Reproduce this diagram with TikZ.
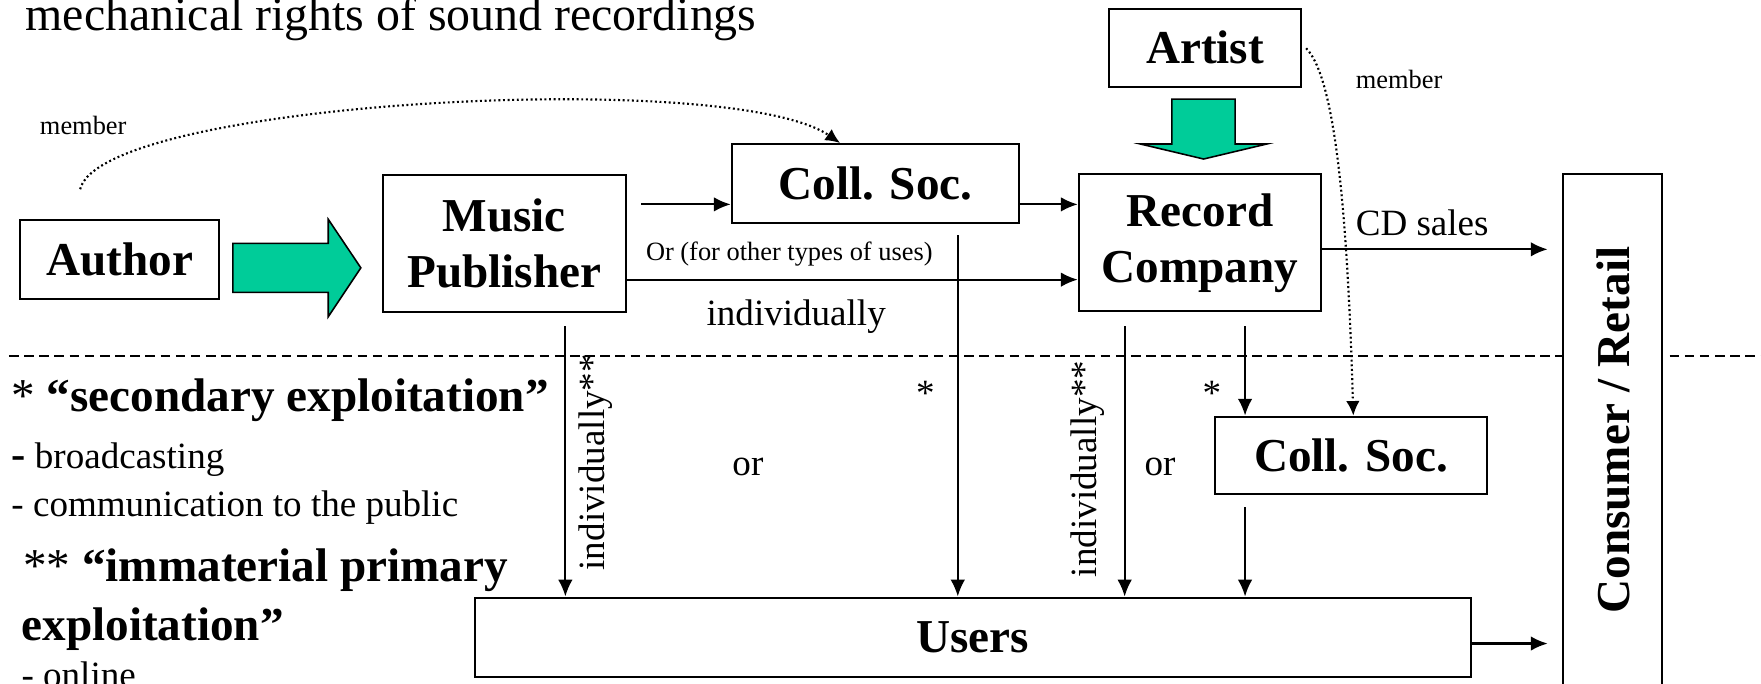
\documentclass[tikz,border=0pt]{standalone}
\usepackage{fontspec}
\setmainfont{Liberation Serif}
\usetikzlibrary{arrows.meta}
\definecolor{arrowgreen}{RGB}{0,204,153}
\newcommand\bigbf{\fontsize{42}{50}\selectfont\bfseries}
\newcommand\medtxt{\fontsize{33}{38}\selectfont}
\newcommand\smltxt{\fontsize{23.5}{27}\selectfont}
\begin{document}
\begin{tikzpicture}[x=1pt,y=-1pt,
  box/.style={draw, line width=1.8pt, inner sep=0pt, align=center, font=\bigbf},
  arr/.style={line width=1.9pt, -{Latex[length=15pt,width=13pt]}},
  dotline/.style={line width=1.9pt, dash pattern=on 1.7pt off 2.4pt, -{Latex[length=13pt,width=12pt]}},
  sepline/.style={line width=1.7pt, dash pattern=on 8.5pt off 5pt},
  bigarrow/.style={draw, line width=1.4pt, fill=arrowgreen, line join=miter},
  txt/.style={anchor=base west, inner sep=0pt}]
\useasboundingbox (0,0) rectangle (1568,609);

% title
\node[txt, font=\fontsize{42.6}{48}\selectfont] (title) at (22.7,27) {mechanical rights of sound recordings};

% boxes
\node[box, minimum width=177pt, minimum height=70pt] (author) at (106.5,231) {Author};
\node[box, minimum width=216pt, minimum height=122pt] (mp) at (449,216.5) {Music\\Publisher};
\node[box, minimum width=256pt, minimum height=70.5pt] (cs1) at (779.5,163.5) {Coll. Soc.};
\node[box, minimum width=216pt, minimum height=122pt] (rc) at (1068.5,216.3) {Record\\Company};
\node[box, minimum width=171pt, minimum height=70pt] (artist) at (1073,42.6) {Artist};
\node[box, minimum width=242pt, minimum height=69pt] (cs2) at (1203,405.5) {Coll. Soc.};
\node[box, minimum width=887pt, minimum height=70.5pt] (users) at (866,567.3) {Users};
\node[draw, line width=1.8pt, minimum width=88pt, minimum height=500pt, inner sep=0pt] (cr) at (1435.7,405) {};
\node[font=\bigbf, rotate=90, inner sep=0pt] (crtext) at (1437,383) {Consumer / Retail};

% separator
\coordinate (sepL) at (8,317);
\draw[sepline] (sepL) -- (sepL -| cr.west);
\coordinate (sepR) at (1568,317);
\draw[sepline] (cr.east |- sepR) ++(6,0) -- (sepR);

% green arrows
\draw[bigarrow] (207.4,216.7) -- (292.3,216.7) -- (292.3,195.3) -- (321.3,238.5) -- (292.3,282) -- (292.3,260.3) -- (207.4,260.3) -- cycle;
\draw[bigarrow] (1043.5,88.2) -- (1099.8,88.2) -- (1099.8,128.2) -- (1128,128.2) -- (1071.7,141.6) -- (1015.3,128.2) -- (1043.5,128.2) -- cycle;

% member dotted curves
\node[txt, font=\smltxt] (mem1) at (35.4,119.6) {member};
\coordinate (d1) at (71.4,168.5);
\draw[dotline] (d1) .. controls (90,90) and (650,60) .. (cs1.north -| 748,0);
\node[txt, font=\smltxt] (mem2) at (1207,78.5) {member};
\coordinate (d2) at (1163,43);
\draw[dotline] (d2) .. controls (1190,70) and (1200,200) .. (cs2.north -| 1205,0);

% top arrows
\coordinate (m1) at (571,182);
\draw[arr] (m1) -- (m1 -| cs1.west);
\draw[arr] (cs1.east |- m1) -- (m1 -| rc.west);
\coordinate (m2) at (557,249);
\draw[arr] (m2 -| mp.east) -- (m2 -| rc.west);
\node[txt, font=\smltxt] (ortxt) at (575,232) {Or (for other types of uses)};
\node[txt, font=\medtxt] (indiv) at (629,289.4) {individually};
\coordinate (cd) at (1378,222);
\draw[arr] (cd -| rc.east) -- (cd);
\node[txt, font=\medtxt] (cdtxt) at (1207,209.3) {CD sales};
\coordinate (ua) at (1378,573);
\draw[arr] (ua -| users.east) -- (ua);

% vertical arrows
\coordinate (v1) at (503.4,290.3);
\draw[arr] (v1) -- (v1 |- users.north);
\coordinate (v2) at (852.8,209.3);
\draw[arr] (v2) -- (v2 |- users.north);
\coordinate (v3) at (1001.4,290.3);
\draw[arr] (v3) -- (v3 |- users.north);
\coordinate (v4) at (1108.6,290.3);
\draw[arr] (v4) -- (v4 |- cs2.north);
\coordinate (v5) at (1108.6,451.6);
\draw[arr] (v5) -- (v5 |- users.north);

\node[txt, font=\medtxt, rotate=90] (ind1) at (538,508) {individually**};
\node[txt, font=\medtxt, rotate=90] (ind2) at (976,514) {individually**};
\node[font=\medtxt, inner sep=0pt] (st1) at (824,350) {*};
\node[font=\medtxt, inner sep=0pt] (st2) at (1079,350) {*};
\node[txt, font=\medtxt] (or1) at (652,423) {or};
\node[txt, font=\medtxt] (or2) at (1019,423) {or};

% left legend
\node[txt, font=\bigbf] (l1) at (10,366) {{\mdseries *} “secondary exploitation”};
\node[txt, font=\medtxt] (l2) at (10,417) {{\bfseries\fontsize{38}{40}\selectfont -} broadcasting};
\node[txt, font=\medtxt] (l3) at (10,460) {- communication to the public};
\node[txt, font=\bigbf] (l4) at (20.5,518) {{\mdseries **} “immaterial primary};
\node[txt, font=\bigbf] (l5) at (19,570) {exploitation”};
\node[txt, font=\medtxt] (l6) at (19,612) {- online};
\end{tikzpicture}
\end{document}
